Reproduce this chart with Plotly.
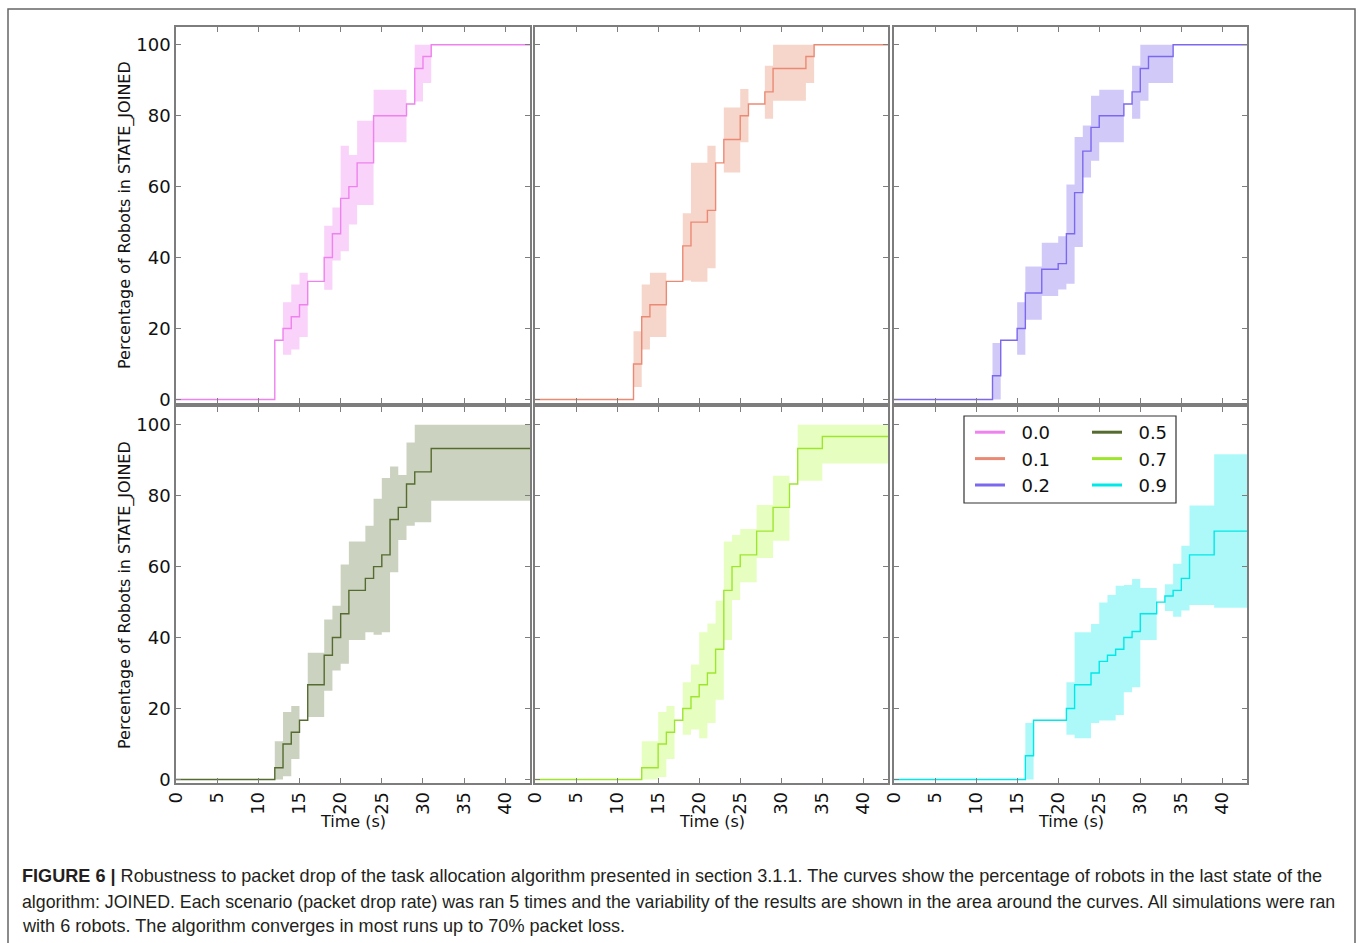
import plotly.graph_objects as go

W, H = 1358, 943

# ---------------- data ----------------
rates = ["0.0", "0.1", "0.2", "0.5", "0.7", "0.9"]

time_00 = [0, 12, 13, 14, 15, 16, 18, 19, 20, 21, 22, 24, 28, 29, 30, 31, 43]
mean_00 = [0, 16.7, 20, 23.3, 26.7, 33.3, 40, 46.7, 56.7, 60, 66.7, 80, 83.3, 93.3, 96.7, 100, 100]
lower_00 = [0, 16.7, 12.6, 14.1, 17.6, 33.3, 30.9, 39.2, 41.8, 49.3, 54.8, 72.5, 83.3, 84.0, 89.2, 100, 100]
upper_00 = [0, 16.7, 27.4, 32.4, 35.7, 33.3, 49.0, 54.1, 71.5, 68.9, 78.6, 87.3, 83.3, 100, 100, 100, 100]

time_01 = [0, 12, 13, 14, 16, 18, 19, 21, 22, 23, 25, 26, 28, 29, 33, 34, 43]
mean_01 = [0, 10, 23.3, 26.7, 33.3, 43.3, 50, 53.3, 66.7, 73.3, 80, 83.3, 86.7, 93.3, 96.7, 100, 100]
lower_01 = [0, 3.5, 14.1, 17.6, 33.3, 33.5, 33.2, 37, 66.7, 64.0, 72.5, 83.3, 79.1, 84.2, 89.2, 100, 100]
upper_01 = [0, 19.2, 32.4, 35.7, 33.3, 52.5, 66.7, 71.5, 66.7, 82.3, 87.5, 83.3, 94.1, 100, 100, 100, 100]

time_02 = [0, 12, 13, 15, 16, 18, 20, 21, 22, 23, 24, 25, 28, 29, 30, 31, 34, 43]
mean_02 = [0, 6.7, 16.7, 20, 30, 36.7, 38.3, 46.7, 58.3, 70, 76.7, 80, 83.3, 86.7, 93.3, 96.7, 100, 100]
lower_02 = [0, 0, 16.7, 12.6, 22.5, 29.2, 31, 32.6, 43, 62.6, 67.3, 72.5, 83.3, 79.1, 84.2, 89.2, 100, 100]
upper_02 = [0, 15.9, 16.7, 27.4, 37.5, 44.2, 46, 60.6, 74, 77.2, 85.6, 87.3, 83.3, 94.1, 100, 100, 100, 100]

time_05 = [0, 12, 13, 14, 15, 16, 18, 19, 20, 21, 23, 24, 25, 26, 27, 28, 29, 31, 43]
mean_05 = [0, 3.3, 10, 13.3, 16.7, 26.7, 35, 40, 46.7, 53.3, 56.7, 60, 63.3, 73.3, 76.7, 83.3, 86.7, 93.3, 93.3]
lower_05 = [0, 0, 0.9, 5.8, 16.7, 17.6, 25, 30.7, 32.6, 39.3, 41.5, 40.8, 41.5, 58.4, 67.5, 71.5, 72.5, 78.6, 78.6]
upper_05 = [0, 10.8, 19.0, 20.7, 16.7, 35.7, 45.1, 49.0, 60.6, 67.1, 71.5, 79.1, 85.0, 88.2, 85.8, 95.0, 100, 100, 100]

time_07 = [0, 13, 15, 16, 17, 18, 19, 20, 21, 22, 23, 24, 25, 27, 29, 31, 32, 35, 43]
mean_07 = [0, 3.3, 10, 13.3, 16.7, 20, 23.3, 26.7, 30, 36.7, 53.3, 60, 63.3, 70, 76.7, 83.3, 93.3, 96.7, 96.7]
lower_07 = [0, 0, 0.7, 5.8, 16.7, 12.6, 14.1, 11.6, 15.9, 22.5, 39.3, 50.6, 55.6, 62.4, 67.3, 83.3, 84.2, 89.1, 89.1]
upper_07 = [0, 10.8, 19.0, 20.7, 16.7, 27.4, 32.4, 41.5, 44.0, 50.4, 67.1, 68.9, 70.6, 77.4, 85.6, 83.3, 100, 100, 100]

time_09 = [0, 16, 17, 21, 22, 24, 25, 26, 27, 28, 29, 30, 32, 33, 34, 35, 36, 39, 43]
mean_09 = [0, 6.7, 16.7, 20, 26.7, 30, 33.3, 35, 36.7, 40, 41.7, 46.7, 50, 51.7, 53.3, 56.7, 63.3, 70, 70]
lower_09 = [0, 0, 16.7, 12.6, 11.6, 15.9, 16.6, 16.6, 18.2, 24.6, 26, 39.3, 50, 47.5, 45.9, 47.6, 49.2, 48.4, 48.4]
upper_09 = [0, 15.9, 16.7, 27.4, 41.5, 43.8, 49.9, 52, 54.6, 54.8, 56.5, 54.0, 50, 55, 60.8, 65.9, 77.2, 91.7, 91.7]

x_ticks = [0, 5, 10, 15, 20, 25, 30, 35, 40]
y_ticks = [0, 20, 40, 60, 80, 100]

y_title = "Percentage of Robots in STATE_JOINED"
x_title = "Time (s)"
caption_lines = [
    "<b>FIGURE 6 |</b> Robustness to packet drop of the task allocation algorithm presented in section 3.1.1. The curves show the percentage of robots in the last state of the",
    "algorithm: JOINED. Each scenario (packet drop rate) was ran 5 times and the variability of the results are shown in the area around the curves. All simulations were ran",
    "with 6 robots. The algorithm converges in most runs up to 70% packet loss.",
]
caption_sizes = [18.1, 17.75, 18.1]
caption_y_px = [876, 902, 926]

# ---------------- styles ----------------
line_colors = ["#ee82ee", "#eb8a74", "#7b68ee", "#556b2f", "#9ee62e", "#00e8e8"]
fill_colors = ["rgba(238,130,238,0.35)", "rgba(233,150,122,0.40)", "rgba(123,104,238,0.35)",
               "rgba(85,107,47,0.30)", "rgba(173,255,47,0.30)", "rgba(0,235,235,0.32)"]

series = [
    (time_00, mean_00, lower_00, upper_00),
    (time_01, mean_01, lower_01, upper_01),
    (time_02, mean_02, lower_02, upper_02),
    (time_05, mean_05, lower_05, upper_05),
    (time_07, mean_07, lower_07, upper_07),
    (time_09, mean_09, lower_09, upper_09),
]

col_px = [(176, 530), (535, 888), (894, 1247)]
row_px = [(27, 403), (407, 783)]

FONT = "DejaVu Sans"
AX_COLOR = "#7d7d7d"
NB = "\u00a0\u00a0"

fig = go.Figure()

for i, (t, m, lo, hi) in enumerate(series):
    n = i + 1
    xa = "x" if n == 1 else f"x{n}"
    ya = "y" if n == 1 else f"y{n}"
    fig.add_trace(go.Scatter(x=t, y=lo, mode="lines", line=dict(width=0, shape="hv"),
                             xaxis=xa, yaxis=ya, showlegend=False, hoverinfo="skip"))
    fig.add_trace(go.Scatter(x=t, y=hi, mode="lines", line=dict(width=0, shape="hv"),
                             fill="tonexty", fillcolor=fill_colors[i],
                             xaxis=xa, yaxis=ya, showlegend=False, hoverinfo="skip"))
    fig.add_trace(go.Scatter(x=t, y=m, mode="lines",
                             line=dict(color=line_colors[i], width=1.4, shape="hv"),
                             xaxis=xa, yaxis=ya, showlegend=False))

# legend entries (two columns)
for i, rate in enumerate(rates):
    fig.add_trace(go.Scatter(x=[None], y=[None], mode="lines", name=NB + rate,
                             line=dict(color=line_colors[i], width=3),
                             xaxis="x6", yaxis="y6",
                             legend="legend" if i < 3 else "legend2"))

layout = dict(
    width=W, height=H,
    margin=dict(l=0, r=0, t=0, b=0, pad=0, autoexpand=False),
    paper_bgcolor="white", plot_bgcolor="white",
    font=dict(family=FONT, size=18, color="#111"),
    hovermode=False,
)

for i in range(6):
    n = i + 1
    r, c = divmod(i, 3)
    x0, x1 = col_px[c]
    y0, y1 = row_px[r]
    sfx = "" if n == 1 else str(n)
    common = dict(showline=True, linecolor=AX_COLOR, linewidth=1.5, mirror="ticks",
                  ticks="inside", ticklen=5, tickwidth=1, tickcolor=AX_COLOR,
                  showgrid=False, zeroline=False, fixedrange=True, automargin=False,
                  tickfont=dict(family=FONT, size=18, color="#111"))
    layout["xaxis" + sfx] = dict(domain=[x0 / W, x1 / W], anchor="y" + sfx, range=[0, 43],
                                 tickmode="array", tickvals=x_ticks,
                                 ticktext=[str(v) for v in x_ticks],
                                 showticklabels=(r == 1), tickangle=-90, **common)
    layout["yaxis" + sfx] = dict(domain=[1 - y1 / H, 1 - y0 / H], anchor="x" + sfx, range=[-1, 105],
                                 tickmode="array", tickvals=y_ticks,
                                 ticktext=[str(v) for v in y_ticks],
                                 showticklabels=(c == 0), **common)

annotations = []
for (y0, y1) in row_px:
    annotations.append(dict(x=125 / W, y=1 - (y0 + y1) / 2 / H, xref="paper", yref="paper",
                            text=y_title, textangle=-90, showarrow=False,
                            font=dict(family=FONT, size=16, color="#111"),
                            xanchor="center", yanchor="middle"))
for (x0, x1) in col_px:
    annotations.append(dict(x=(x0 + x1) / 2 / W, y=1 - 821 / H, xref="paper", yref="paper",
                            text=x_title, showarrow=False,
                            font=dict(family=FONT, size=16, color="#111"),
                            xanchor="center", yanchor="middle"))
for line, yc, fs in zip(caption_lines, caption_y_px, caption_sizes):
    annotations.append(dict(x=20 / W, y=1 - yc / H, xref="paper", yref="paper",
                            text=line, showarrow=False, align="left",
                            font=dict(family="Liberation Sans, Arial", size=fs, color="#231f20"),
                            xanchor="left", yanchor="middle"))
layout["annotations"] = annotations

layout["shapes"] = [
    dict(type="rect", xref="paper", yref="paper", x0=8 / W, x1=1355 / W, y0=1 - 9 / H, y1=-0.05,
         line=dict(color="#666", width=1.5), fillcolor="rgba(0,0,0,0)", layer="above"),
    dict(type="rect", xref="paper", yref="paper", x0=964 / W, x1=1176 / W, y0=1 - 416 / H, y1=1 - 503 / H,
         line=dict(color="#333", width=1.2), fillcolor="rgba(0,0,0,0)", layer="above"),
]

leg_common = dict(xanchor="left", yanchor="top", bgcolor="rgba(0,0,0,0)", borderwidth=0,
                  font=dict(family=FONT, size=18, color="#111"), itemwidth=30, tracegroupgap=0,
                  orientation="v", traceorder="normal")
layout["legend"] = dict(x=970 / W, y=1 - 414 / H, **leg_common)
layout["legend2"] = dict(x=1087 / W, y=1 - 414 / H, **leg_common)

fig.update_layout(**layout)
fig.write_html("out.html")
